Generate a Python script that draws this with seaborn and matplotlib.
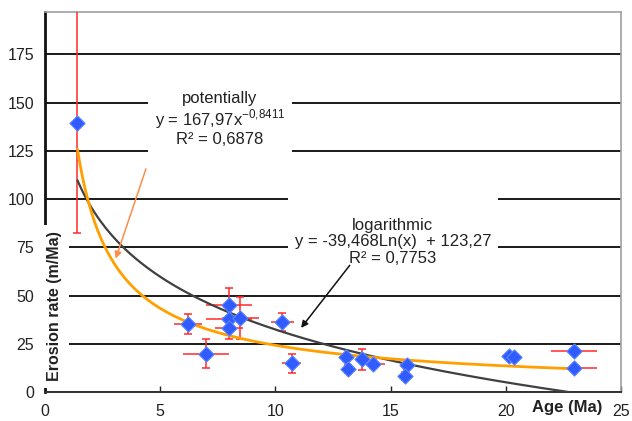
import matplotlib
matplotlib.use("Agg")
import matplotlib.pyplot as plt
import seaborn as sns
import numpy as np
import pandas as pd

# data
age = [1.41, 6.2, 7.0, 7.98, 7.98, 7.98, 8.47, 10.3, 10.7, 13.06, 13.17,
       13.78, 14.24, 15.7, 15.63, 20.15, 20.35, 22.97, 22.97]
rate = [139.5, 35.3, 19.8, 45.2, 37.6, 33.4, 38.3, 36.3, 14.8, 17.9, 11.9,
        16.9, 14.6, 14.0, 8.3, 18.5, 18.3, 21.1, 12.6]
age_err = [0.0, 0.6, 1.0, 1.0, 1.0, 0.6, 0.8, 0.5, 0.4, 0.3, 0.3,
           0.3, 0.5, 0.3, 0.2, 0.3, 0.3, 1.0, 1.0]
rate_err_lo = [57.0, 5.0, 7.5, 8.5, 5.0, 6.0, 10.7, 4.5, 5.0, 2.0, 2.0,
               5.5, 2.0, 2.0, 2.0, 1.0, 1.0, 1.0, 1.0]
rate_err_hi = [75.0, 5.0, 7.5, 8.5, 5.0, 6.0, 10.7, 4.5, 5.0, 2.0, 2.0,
               5.5, 2.0, 2.0, 2.0, 1.0, 1.0, 1.0, 1.0]

# trendline coefficients shown on the chart
pow_a, pow_b = 167.97, -0.8411
log_a, log_b = -39.468, 123.27

yticks = [0, 25, 50, 75, 100, 125, 150, 175]
xticks = [0, 5, 10, 15, 20, 25]

sns.set_theme(style="white")
plt.rcParams['font.family'] = ['Liberation Sans', 'DejaVu Sans']
plt.rcParams['mathtext.fontset'] = 'custom'
plt.rcParams['mathtext.rm'] = 'Liberation Sans'

df = pd.DataFrame({"age": age, "rate": rate})
xp = np.linspace(min(age), 23.0, 300)
xl = np.linspace(min(age), np.exp(-log_b / log_a), 300)
fit_pow = pd.DataFrame({"x": xp, "y": pow_a * xp ** pow_b})
fit_log = pd.DataFrame({"x": xl, "y": log_a * np.log(xl) + log_b})

fig = plt.figure(figsize=(6.32, 4.21), dpi=100)
ax = fig.add_axes([45 / 632, 29 / 421, 576 / 632, 380 / 421])

red = '#ff2a2a'
ax.errorbar(age, rate, xerr=age_err, fmt='none', ecolor=red,
            elinewidth=1.1, capsize=0, zorder=3)
ax.errorbar(age, rate, yerr=[rate_err_lo, rate_err_hi], fmt='none', ecolor=red,
            elinewidth=1.1, capsize=3, capthick=1.1, zorder=3)
sns.lineplot(data=fit_log, x="x", y="y", color='#404040', lw=1.6, ax=ax, zorder=3)
sns.lineplot(data=fit_pow, x="x", y="y", color='#ffa000', lw=2.0, ax=ax, zorder=3)
sns.scatterplot(data=df, x="age", y="rate", marker='D', s=60, color='#2f5bff',
                edgecolor='#5c85ff', linewidth=0.8, ax=ax, zorder=4)

ax.set_xlim(0, 25)
ax.set_ylim(0, 197)
ax.set_xticks(xticks)
ax.set_yticks(yticks)
ax.yaxis.grid(True, color='#1a1a1a', lw=1.4)
ax.set_axisbelow(True)
ax.set_xlabel("")
ax.set_ylabel("")
ax.tick_params(axis='y', length=0, pad=8, labelsize=11.5, colors='#222222')
ax.tick_params(axis='x', direction='in', length=4, width=1, pad=9,
               labelsize=11.5, colors='#222222', bottom=True)

for s in ['top', 'right']:
    ax.spines[s].set_color('#a0a0a0')
    ax.spines[s].set_linewidth(1.2)
ax.spines['left'].set_color('#111111')
ax.spines['left'].set_linewidth(2.0)
ax.spines['bottom'].set_color('#333333')
ax.spines['bottom'].set_linewidth(1.4)

box = dict(boxstyle='square,pad=0.4', facecolor='white', edgecolor='none')
ax.text(7.6, 141.5, "potentially\ny = 167,97x$^{\\mathregular{-0{,}8411}}$\nR\u00b2 = 0,6878",
        ha='center', va='center', fontsize=12, color='#222222',
        linespacing=1.1, bbox=box, zorder=2.5)
ax.text(15.1, 82, "\nlogarithmic\ny = -39,468Ln(x)  + 123,27\nR\u00b2 = 0,7753",
        ha='center', va='center', fontsize=12, color='#222222',
        linespacing=1.1, bbox=box, zorder=2.5)

ax.annotate("", xy=(3.03, 67.8), xytext=(4.42, 117),
            arrowprops=dict(arrowstyle='-|>', color='#ff8c4a', lw=1.1,
                            mutation_scale=10), zorder=5)
ax.annotate("", xy=(11.04, 32.1), xytext=(13.3, 66.8),
            arrowprops=dict(arrowstyle='-|>', color='#111111', lw=1.1,
                            mutation_scale=10), zorder=5)

ax.text(0.017, 0.225, "Erosion rate (m/Ma)", transform=ax.transAxes,
        rotation=90, ha='center', va='center', fontsize=11.5, fontweight='bold',
        color='#222222', bbox=dict(boxstyle='square,pad=0.4', facecolor='white',
                                   edgecolor='none'), zorder=6)
ax.text(0.906, -0.042, "Age (Ma)", transform=ax.transAxes, ha='center',
        va='center', fontsize=12, fontweight='bold', color='#222222',
        clip_on=False)

fig.savefig("out.png", dpi=100)
